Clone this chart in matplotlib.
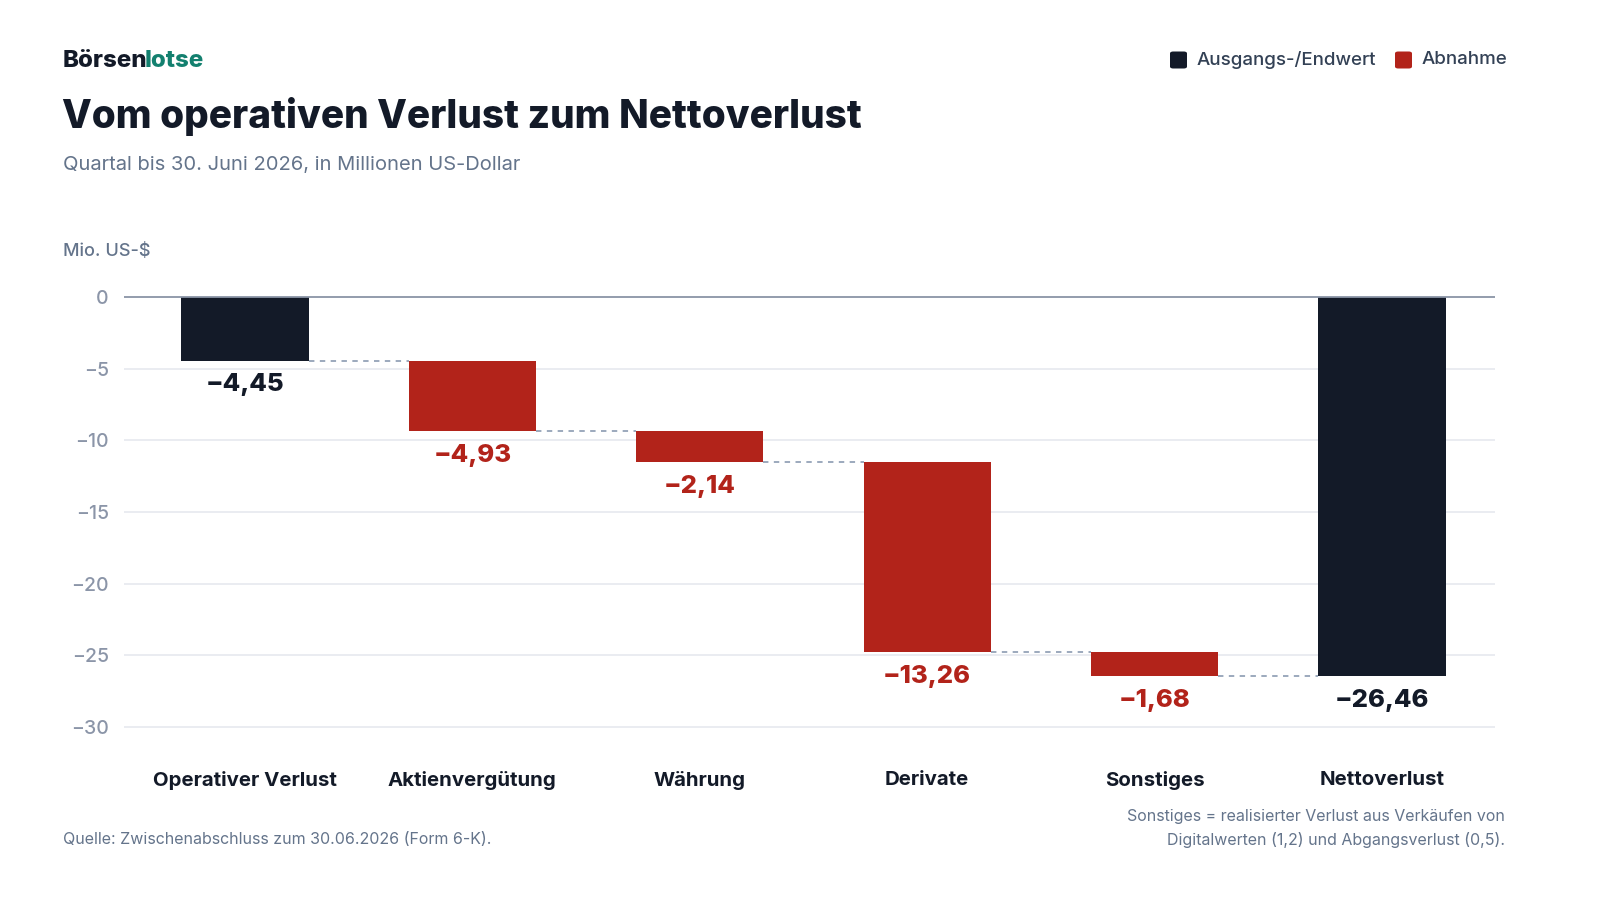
import matplotlib
matplotlib.use("Agg")
import matplotlib.pyplot as plt
import matplotlib.transforms as mtransforms
from matplotlib.patches import FancyBboxPatch

plt.rcParams['font.family'] = ['Inter', 'DejaVu Sans']

categories = ["Operativer Verlust", "Aktienvergütung", "Währung", "Derivate", "Sonstiges", "Nettoverlust"]
values = [-4.45, -4.93, -2.14, -13.26, -1.68, -26.46]
kinds = ["total", "delta", "delta", "delta", "delta", "total"]
yticks = [0, -5, -10, -15, -20, -25, -30]

DARK = "#131a28"
RED = "#b2231a"
GRID = "#e8ebf0"
ZERO = "#8a94a6"
TICK = "#8b95a8"
SUB = "#64748b"
CONN = "#94a3b8"

fig = plt.figure(figsize=(16, 9), dpi=100)
fig.patch.set_facecolor("white")

W, H = 1600, 900
def fx(px): return px / W
def fy(py): return 1 - py / H

ax_top = 297 - 14.333
ax_bot = 727 + 14.333
ax = fig.add_axes([fx(124), fy(ax_bot), fx(1495) - fx(124), (ax_bot - ax_top) / H])
ax.set_ylim(-31, 1)
ax.set_xlim(-0.532, 5.497)
for s in ax.spines.values():
    s.set_visible(False)
ax.set_yticks(yticks)
ax.set_yticklabels([("\u2212" if t < 0 else "") + str(abs(t)) for t in yticks])
ax.tick_params(axis='y', length=0, pad=11, labelsize=14, labelcolor=TICK)
for lab in ax.get_yticklabels():
    lab.set_fontweight("medium")
ax.set_xticks([])
for t in yticks:
    if t == 0:
        continue
    ax.axhline(t, color=GRID, lw=1.3, zorder=0)
ax.axhline(0, color=ZERO, lw=1.3, zorder=3)

bw = 0.56
running = 0.0
levels = []
for i, (v, k) in enumerate(zip(values, kinds)):
    if k == "total":
        bottom, top = v, 0.0
        color = DARK
        running = v
    else:
        top = running
        bottom = running + v
        running = bottom
        color = RED
    levels.append(bottom)
    ax.bar(i, top - bottom, bottom=bottom, width=bw, color=color, zorder=2, linewidth=0)
    lab = "\u2212" + f"{abs(v):.2f}".replace(".", ",")
    ax.annotate(lab, (i, bottom), xytext=(0, -9), textcoords="offset points",
                ha="center", va="top", fontsize=18.5, fontweight="heavy",
                color=(DARK if k == "total" else RED), zorder=4)

for i in range(len(values) - 1):
    ax.plot([i + bw / 2, i + 1 - bw / 2], [levels[i], levels[i]], color=CONN,
            lw=1.3, ls=(0, (3, 3)), zorder=1)

trans = mtransforms.blended_transform_factory(ax.transData, fig.transFigure)
for i, c in enumerate(categories):
    ax.text(i, fy(780), c, transform=trans, ha="center", va="center",
            fontsize=14.7, fontweight="bold", color=DARK)

# header
t1 = fig.text(fx(63), fy(61), "Börsen", fontsize=17.3, fontweight="heavy", color=DARK, va="center", ha="left")
fig.canvas.draw()
bb = t1.get_window_extent(renderer=fig.canvas.get_renderer())
fig.text((bb.x1 - 3) / W, fy(61), "lotse", fontsize=17.3, fontweight="heavy", color="#13806f", va="center", ha="left")

fig.text(fx(62), fy(116), "Vom operativen Verlust zum Nettoverlust", fontsize=27.9, fontweight="heavy",
         color=DARK, va="center", ha="left")
fig.text(fx(63), fy(165), "Quartal bis 30. Juni 2026, in Millionen US-Dollar", fontsize=14.5,
         color=SUB, va="center", ha="left")
fig.text(fx(63), fy(252), "Mio. US-$", fontsize=13, fontweight="medium", color=SUB, va="center", ha="left")

def legend_item(x_sq, label, color):
    sq = 17
    p = FancyBboxPatch((fx(x_sq), fy(60 + sq / 2)), fx(sq), sq / H,
                       boxstyle="round,pad=0,rounding_size=0.002", transform=fig.transFigure,
                       facecolor=color, edgecolor="none")
    fig.patches.append(p)
    fig.text(fx(x_sq + 27), fy(60), label, fontsize=13.5, fontweight="medium", color="#334155",
             va="center", ha="left")

legend_item(1170, "Ausgangs-/Endwert", DARK)
legend_item(1395, "Abnahme", RED)

fig.text(fx(63), fy(840), "Quelle: Zwischenabschluss zum 30.06.2026 (Form 6-K).", fontsize=11.5,
         color=SUB, va="center", ha="left")
fig.text(fx(1505), fy(816), "Sonstiges = realisierter Verlust aus Verkäufen von", fontsize=11.5,
         color=SUB, va="center", ha="right")
fig.text(fx(1505), fy(840), "Digitalwerten (1,2) und Abgangsverlust (0,5).", fontsize=11.5,
         color=SUB, va="center", ha="right")

fig.savefig("out.png", dpi=100, facecolor="white")
